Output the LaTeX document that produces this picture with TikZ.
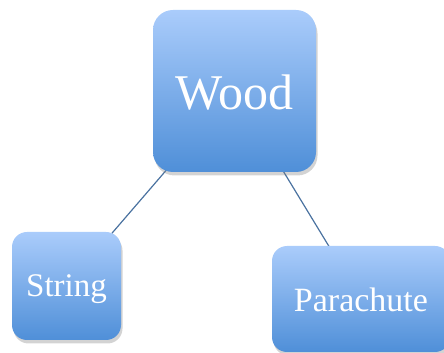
\documentclass[tikz,border=0pt]{standalone}
\usepackage{fontspec}
\setmainfont{Liberation Serif}
\usetikzlibrary{shadows,backgrounds}
\definecolor{boxtop}{HTML}{AACCFB}
\definecolor{boxbot}{HTML}{4F8FD8}
\definecolor{linkc}{HTML}{4A72A0}
\tikzset{
  box/.style={rounded corners=#1, inner sep=0pt, top color=boxtop, bottom color=boxbot,
    text=white, drop shadow={opacity=0.35, shadow xshift=1.5pt, shadow yshift=-3.5pt}},
  link/.style={draw=linkc, line width=1.2pt}
}
\begin{document}
\begin{tikzpicture}[x=1pt,y=1pt]
\useasboundingbox (0,0) rectangle (444,353);
\clip (0,0) rectangle (444,353);
\node[box=20pt, minimum width=163pt, minimum height=162pt] (wood) at (234.5,262)
  {\fontsize{50}{56}\selectfont\raisebox{-2pt}[\height][\depth]{Wood}};
\node[box=15pt, minimum width=109pt, minimum height=108pt] (string) at (66.5,67)
  {\fontsize{33}{38}\selectfont\raisebox{-3pt}[\height][\depth]{String}};
\node[box=15pt, minimum width=178pt, minimum height=106pt] (para) at (361,54)
  {\fontsize{34}{38}\selectfont\raisebox{-1pt}[\height][\depth]{Parachute}};
\begin{pgfonlayer}{background}
\draw[link] (wood.center) -- (string.center);
\draw[link] (wood.center) -- (para.center);
\end{pgfonlayer}
\end{tikzpicture}
\end{document}
